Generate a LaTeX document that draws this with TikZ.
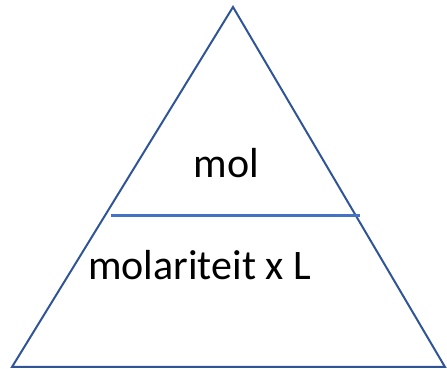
\documentclass[tikz,border=0pt]{standalone}
\usepackage{fontspec}
\setmainfont{Carlito}
\definecolor{tri}{HTML}{2F5597}
\definecolor{bar}{HTML}{4472C4}
\begin{document}
\begin{tikzpicture}[x=1pt,y=1pt,
  edge/.style={draw=tri,line width=2pt,line join=miter},
  barline/.style={draw=bar,line width=2.4pt},
  lbl/.style={font=\fontsize{42}{42}\selectfont,inner sep=0pt,anchor=base}]
\useasboundingbox (0,0) rectangle (447,369);
\coordinate (apex) at (233,362);
\coordinate (bl) at (12,2);
\coordinate (br) at (445,2);
\coordinate (hl) at (111,153.5);
\coordinate (hr) at (360,153.5);
\draw[edge] (apex) -- (br) -- (bl) -- cycle;
\draw[barline] (hl) -- (hr);
\node[lbl] (top) at (226.5,191) {mol};
\node[lbl,anchor=base west] (bottom) at (88,89) {molariteit x L};
\end{tikzpicture}
\end{document}
